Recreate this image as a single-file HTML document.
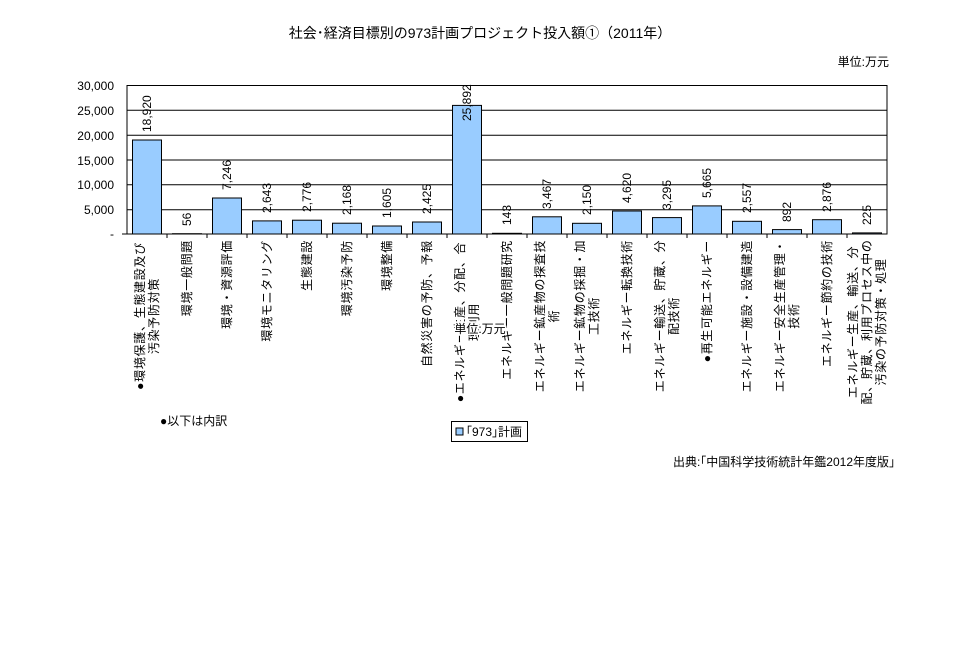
<!DOCTYPE html>
<html><head><meta charset="utf-8"><style>
body{margin:0;background:#fff}
svg text{font-family:"Liberation Sans","Noto Sans CJK JP",sans-serif;fill:#000}
.lb text{letter-spacing:0.7px}
</style></head><body>
<svg width="960" height="650" xmlns="http://www.w3.org/2000/svg">
<text x="480" y="38" font-size="14" text-anchor="middle">社会･経済目標別の973計画プロジェクト投入額①（2011年）</text>
<text x="889" y="66" font-size="12" text-anchor="end">単位:万元</text>
<g stroke="#000" stroke-width="1">
<line x1="127" y1="110.3" x2="887" y2="110.3"/>
<line x1="127" y1="135.2" x2="887" y2="135.2"/>
<line x1="127" y1="160" x2="887" y2="160"/>
<line x1="127" y1="184.8" x2="887" y2="184.8"/>
<line x1="127" y1="209.7" x2="887" y2="209.7"/>
<rect x="127" y="85.5" width="760" height="148.5" fill="none"/>
<line x1="122" y1="234" x2="127" y2="234"/>
<line x1="167" y1="234" x2="167" y2="238"/><line x1="207" y1="234" x2="207" y2="238"/><line x1="247" y1="234" x2="247" y2="238"/><line x1="287" y1="234" x2="287" y2="238"/><line x1="327" y1="234" x2="327" y2="238"/><line x1="367" y1="234" x2="367" y2="238"/><line x1="407" y1="234" x2="407" y2="238"/><line x1="447" y1="234" x2="447" y2="238"/><line x1="487" y1="234" x2="487" y2="238"/><line x1="527" y1="234" x2="527" y2="238"/><line x1="567" y1="234" x2="567" y2="238"/><line x1="607" y1="234" x2="607" y2="238"/><line x1="647" y1="234" x2="647" y2="238"/><line x1="687" y1="234" x2="687" y2="238"/><line x1="727" y1="234" x2="727" y2="238"/><line x1="767" y1="234" x2="767" y2="238"/><line x1="807" y1="234" x2="807" y2="238"/><line x1="847" y1="234" x2="847" y2="238"/>
</g>
<g font-size="12" text-anchor="end">
<text x="114" y="90">30,000</text>
<text x="114" y="115">25,000</text>
<text x="114" y="140">20,000</text>
<text x="114" y="165">15,000</text>
<text x="114" y="189">10,000</text>
<text x="114" y="214">5,000</text>
<text x="114" y="238">-</text>
</g>
<g fill="#99ccff" stroke="#000">
<rect x="132.5" y="140" width="29" height="94"/>
<rect x="172.5" y="233.7" width="29" height="0.3"/>
<rect x="212.5" y="198" width="29" height="36"/>
<rect x="252.5" y="220.9" width="29" height="13.1"/>
<rect x="292.5" y="220.2" width="29" height="13.8"/>
<rect x="332.5" y="223.2" width="29" height="10.8"/>
<rect x="372.5" y="226" width="29" height="8"/>
<rect x="412.5" y="222" width="29" height="12"/>
<rect x="452.5" y="105.4" width="29" height="128.6"/>
<rect x="492.5" y="233.3" width="29" height="0.7"/>
<rect x="532.5" y="216.8" width="29" height="17.2"/>
<rect x="572.5" y="223.3" width="29" height="10.7"/>
<rect x="612.5" y="211" width="29" height="23"/>
<rect x="652.5" y="217.6" width="29" height="16.4"/>
<rect x="692.5" y="205.9" width="29" height="28.1"/>
<rect x="732.5" y="221.3" width="29" height="12.7"/>
<rect x="772.5" y="229.6" width="29" height="4.4"/>
<rect x="812.5" y="219.7" width="29" height="14.3"/>
<rect x="852.5" y="232.9" width="29" height="1.1"/>
</g>
<g font-size="12">
<text transform="translate(151,132) rotate(-90)">18,920</text>
<text transform="translate(191,226) rotate(-90)">56</text>
<text transform="translate(231,190) rotate(-90)">7,246</text>
<text transform="translate(271,213) rotate(-90)">2,643</text>
<text transform="translate(311,212) rotate(-90)">2,776</text>
<text transform="translate(351,215) rotate(-90)">2,168</text>
<text transform="translate(391,218) rotate(-90)">1,605</text>
<text transform="translate(431,214) rotate(-90)">2,425</text>
<text transform="translate(471,121) rotate(-90)">25,892</text>
<text transform="translate(511,225) rotate(-90)">143</text>
<text transform="translate(551,209) rotate(-90)">3,467</text>
<text transform="translate(591,215) rotate(-90)">2,150</text>
<text transform="translate(631,203) rotate(-90)">4,620</text>
<text transform="translate(671,210) rotate(-90)">3,295</text>
<text transform="translate(711,198) rotate(-90)">5,665</text>
<text transform="translate(751,213) rotate(-90)">2,557</text>
<text transform="translate(791,222) rotate(-90)">892</text>
<text transform="translate(831,212) rotate(-90)">2,876</text>
<text transform="translate(871,225) rotate(-90)">225</text>
</g>
<g class="lb" font-size="12" text-anchor="end">
<text transform="translate(191,240) rotate(-90)">環境一般問題</text>
<text transform="translate(231,240) rotate(-90)">環境・資源評価</text>
<text transform="translate(271,240) rotate(-90)">環境モニタリング</text>
<text transform="translate(311,240) rotate(-90)">生態建設</text>
<text transform="translate(351,240) rotate(-90)">環境汚染予防</text>
<text transform="translate(391,240) rotate(-90)">環境整備</text>
<text transform="translate(431,240) rotate(-90)">自然災害の予防、予報</text>
<text transform="translate(511,240) rotate(-90)">エネルギー一般問題研究</text>
<text transform="translate(631,240) rotate(-90)">エネルギー転換技術</text>
<text transform="translate(711,240) rotate(-90)">●再生可能エネルギー</text>
<text transform="translate(751,240) rotate(-90)">エネルギー施設・設備建造</text>
<text transform="translate(831,240) rotate(-90)">エネルギー節約の技術</text>
</g>
<g class="lb" font-size="12" text-anchor="middle">
<text transform="translate(144,316) rotate(-90)">●環境保護、生態建設及び</text>
<text transform="translate(158,316) rotate(-90)">汚染予防対策</text>
<text transform="translate(464,322) rotate(-90)">●エネルギー生産、分配、合</text>
<text transform="translate(478,322) rotate(-90)">理利用</text>
<text transform="translate(544,316) rotate(-90)">エネルギー鉱産物の探査技</text>
<text transform="translate(558,316) rotate(-90)">術</text>
<text transform="translate(584,316) rotate(-90)">エネルギー鉱物の採掘・加</text>
<text transform="translate(598,316) rotate(-90)">工技術</text>
<text transform="translate(664,316) rotate(-90)">エネルギー輸送、貯蔵、分</text>
<text transform="translate(678,316) rotate(-90)">配技術</text>
<text transform="translate(784,316) rotate(-90)">エネルギー安全生産管理・</text>
<text transform="translate(798,316) rotate(-90)">技術</text>
<text transform="translate(857,322) rotate(-90)">エネルギー生産、輸送、分</text>
<text transform="translate(871,322) rotate(-90)">配、貯蔵、利用プロセス中の</text>
<text transform="translate(885,322) rotate(-90)">汚染の予防対策・処理</text>
</g>
<text x="160" y="425" font-size="12">●以下は内訳</text>
<text x="480" y="333" font-size="12" text-anchor="middle" style="paint-order:stroke" stroke="#fff" stroke-width="3">単位:万元</text>
<rect x="451.5" y="421.5" width="76" height="20" fill="#fff" stroke="#000"/>
<rect x="456" y="428" width="7" height="7" fill="#99ccff" stroke="#000"/>
<text x="466" y="436" font-size="12">｢973｣計画</text>
<text x="895" y="466" font-size="12" text-anchor="end">出典:｢中国科学技術統計年鑑2012年度版｣</text>
</svg>
</body></html>
